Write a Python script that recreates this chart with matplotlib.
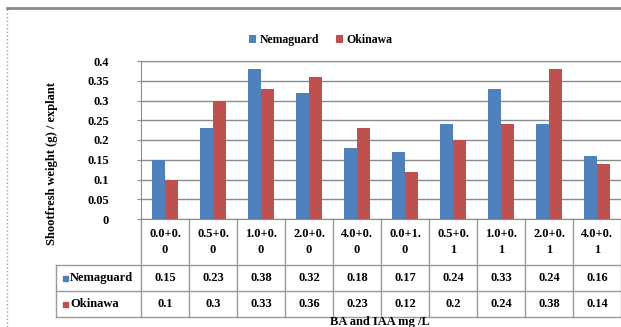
import numpy as np
import matplotlib
matplotlib.use('Agg')
import matplotlib.pyplot as plt
from matplotlib.lines import Line2D
from matplotlib.patches import Rectangle

plt.rcParams['font.family'] = ['Liberation Serif', 'DejaVu Serif']
plt.rcParams['font.weight'] = 'bold'

# treatments (BA + IAA, mg/L)
categories = ['0.0+0.\n0', '0.5+0.\n0', '1.0+0.\n0', '2.0+0.\n0', '4.0+0.\n0',
              '0.0+1.\n0', '0.5+0.\n1', '1.0+0.\n1', '2.0+0.\n1', '4.0+0.\n1']
nemaguard = [0.15, 0.23, 0.38, 0.32, 0.18, 0.17, 0.24, 0.33, 0.24, 0.16]
okinawa = [0.1, 0.3, 0.33, 0.36, 0.23, 0.12, 0.2, 0.24, 0.38, 0.14]
nemaguard_txt = ['0.15', '0.23', '0.38', '0.32', '0.18', '0.17', '0.24', '0.33', '0.24', '0.16']
okinawa_txt = ['0.1', '0.3', '0.33', '0.36', '0.23', '0.12', '0.2', '0.24', '0.38', '0.14']
yticks = [0, 0.05, 0.1, 0.15, 0.2, 0.25, 0.3, 0.35, 0.4]

blue = '#4f81bd'
red = '#c0504d'
grid_c = '#8c8c8c'
tab_c = '#9a9a9a'
fs = 9

W, H = 621, 327
fig = plt.figure(figsize=(W / 100, H / 100), dpi=100)
ax = fig.add_axes([141 / W, 1 - 219 / H, 480 / W, 158 / H])

x = np.arange(len(categories))
bw = 0.28
b1 = ax.bar(x - bw / 2, nemaguard, bw, color=blue, zorder=3, label='Nemaguard')
b2 = ax.bar(x + bw / 2, okinawa, bw, color=red, zorder=3, label='Okinawa')

ax.set_xlim(-0.5, len(categories) - 0.5)
ax.set_ylim(0, 0.4)
ax.set_yticks(yticks)
ax.set_yticklabels(['0'] + [f'{v:g}' for v in yticks[1:]], fontsize=fs, fontweight='bold')
ax.tick_params(axis='y', length=3, color=grid_c, pad=20)
ax.set_xticks([])
ax.yaxis.grid(True, color=grid_c, linewidth=1, zorder=0)
for s in ax.spines.values():
    s.set_color(grid_c)
ax.spines['right'].set_visible(False)

ax.set_ylabel('Shootfresh weight (g) / explant', fontsize=fs, fontweight='bold')
ax.yaxis.set_label_coords(-0.172, 0.35)

# data table under the axis (rows in axes fraction)
tr = ax.get_xaxis_transform()
px = 1 / 158.0
row_cat = (0, -46 * px)
row_n = (-46 * px, -72 * px)
row_o = (-72 * px, -98 * px)
left_col = -0.5 - 85 / 48.0

for i in range(len(categories) + 1):
    ax.add_line(Line2D([i - 0.5, i - 0.5], [0, row_o[1]], transform=tr,
                       color=tab_c, lw=1, clip_on=False))
for yy in [row_n[0], row_o[0], row_o[1]]:
    ax.add_line(Line2D([left_col, len(categories) - 0.5], [yy, yy], transform=tr,
                       color=tab_c, lw=1, clip_on=False))
ax.add_line(Line2D([left_col, left_col], [row_n[0], row_o[1]], transform=tr,
                   color=tab_c, lw=1, clip_on=False))

for i, c in enumerate(categories):
    ax.text(i, sum(row_cat) / 2, c, transform=tr, ha='center', va='center',
            fontsize=fs, fontweight='bold', linespacing=1.4)
    ax.text(i, sum(row_n) / 2, nemaguard_txt[i], transform=tr, ha='center',
            va='center', fontsize=fs, fontweight='bold')
    ax.text(i, sum(row_o) / 2, okinawa_txt[i], transform=tr, ha='center',
            va='center', fontsize=fs, fontweight='bold')

for row, name, col in [(row_n, 'Nemaguard', blue), (row_o, 'Okinawa', red)]:
    yc = sum(row) / 2
    ax.add_patch(Rectangle((left_col + 7 / 48.0, yc - 2.5 * px), 5 / 48.0, 5 * px,
                           transform=tr, color=col, clip_on=False))
    ax.text(left_col + 14 / 48.0, yc, name, transform=tr, ha='left', va='center',
            fontsize=fs, fontweight='bold')

fig.text(380 / W, 1 - 322 / H, 'BA and IAA mg /L', ha='center', va='center',
         fontsize=fs, fontweight='bold')

fig.legend(handles=[b1, b2], loc='center', bbox_to_anchor=(321 / W, 1 - 40 / H),
           ncol=2, frameon=False, handlelength=0.6, handleheight=0.6,
           handletextpad=0.3, columnspacing=1.4, prop={'weight': 'bold', 'size': 8.5})

# outer chart frame
fig.add_artist(Line2D([7 / W, 1], [1 - 8 / H, 1 - 8 / H], transform=fig.transFigure,
                      color='#8a8a8a', lw=2))
fig.add_artist(Line2D([7 / W, 7 / W], [0, 1 - 8 / H], transform=fig.transFigure,
                      color='#a0a0a0', lw=1, ls=':'))

fig.savefig('out.png', dpi=100)
